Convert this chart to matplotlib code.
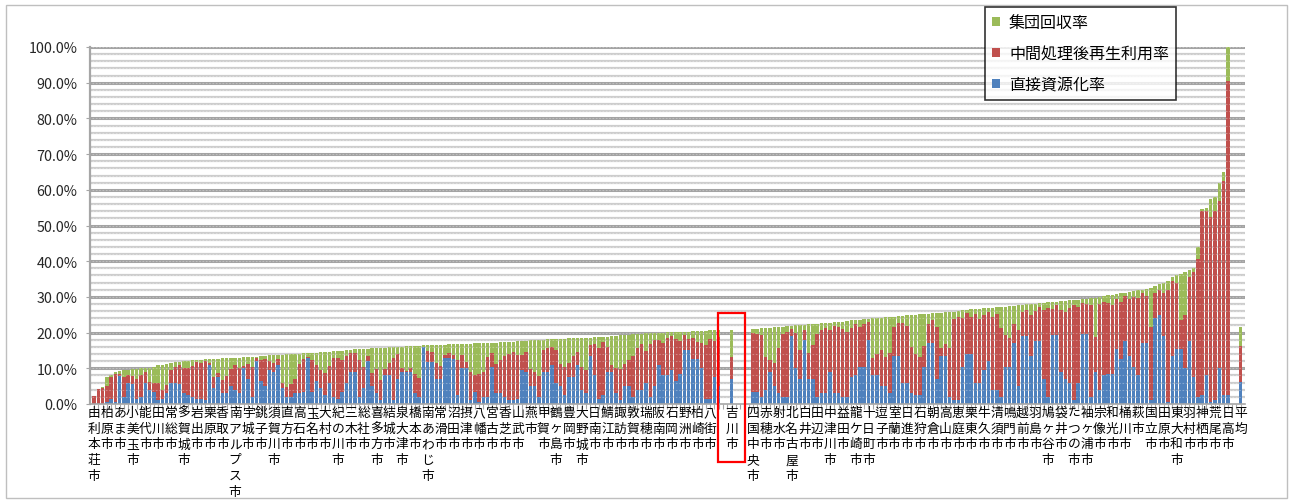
"""Recycling-rate comparison chart: 吉川市 vs. similar cities (stacked bars)."""
import matplotlib
matplotlib.use("Agg")
import matplotlib.pyplot as plt
from matplotlib.patches import Rectangle
from matplotlib.transforms import blended_transform_factory
import numpy as np

plt.rcParams["font.family"] = ["Noto Sans CJK JP", "DejaVu Sans"]

W, H = 1292, 502

SERIES = ["集団回収率", "中間処理後再生利用率", "直接資源化率"]
COLORS = {"blue": "#4F81BD", "red": "#C0504D", "green": "#9BBB59"}

# ---- left block (sorted, below 吉川市) : total / blue / green, in % ----
left_total = [
    2.3, 4.2, 4.8, 7.5, 8.0, 9.0, 9.3, 9.5, 9.6, 9.8,
    9.9, 10.0, 10.0, 10.2, 10.5, 10.8, 11.0, 11.2, 11.5, 11.8,
    11.9, 12.0, 12.1, 12.2, 12.3, 12.4, 12.5, 12.5, 12.6, 12.7,
    12.8, 12.8, 12.9, 13.0, 13.0, 13.1, 13.2, 13.3, 13.3, 13.4,
    13.5, 13.6, 13.6, 13.7, 13.8, 13.9, 14.0, 14.0, 14.1, 14.2,
    14.3, 14.4, 14.4, 14.5, 14.6, 14.7, 14.8, 14.8, 14.9, 15.0,
    15.2, 15.3, 15.4, 15.4, 15.5, 15.6, 15.7, 15.7, 15.8, 15.9,
    16.0, 16.0, 16.1, 16.2, 16.2, 16.3, 16.3, 16.4, 16.4, 16.5,
    16.5, 16.6, 16.6, 16.7, 16.7, 16.8, 16.8, 16.9, 16.9, 17.0,
    17.0, 17.1, 17.1, 17.2, 17.2, 17.3, 17.4, 17.4, 17.5, 17.6,
    17.7, 17.7, 17.8, 17.9, 17.9, 18.0, 18.1, 18.1, 18.2, 18.3,
    18.3, 18.4, 18.4, 18.5, 18.5, 18.6, 18.6, 18.7, 18.7, 18.8,
    18.9, 19.0, 19.1, 19.2, 19.3, 19.4, 19.5, 19.6, 19.7, 19.8,
    19.9, 19.9, 20.0, 20.0, 20.1, 20.1, 20.2, 20.2, 20.3, 20.3,
    20.4, 20.4, 20.5, 20.5, 20.6, 20.6, 20.7,
]
left_blue = [
    0, 0, 0, 0.5, 1.5, 0.5, 7.8, 2, 6, 5.5,
    1.5, 2, 6, 4, 3.5, 1, 1.5, 3, 6, 6,
    5.5, 3, 2.5, 2, 1.5, 1.5, 1, 11, 4.5, 7.5,
    3, 3, 5, 4, 3, 10, 7, 2, 12, 6.5,
    5, 9.5, 9, 11, 4.5, 2, 2, 3, 3, 3.5,
    13, 3.5, 6.5, 4.5, 2.5, 6, 2, 1.5, 3.5, 6,
    9, 9, 2, 4.5, 12, 5, 3, 1, 8, 8,
    1, 7, 9, 9, 9, 3, 2, 16, 11.8, 11.8,
    7, 7, 13, 13, 12.5, 2.5, 10, 10, 1, 3.5,
    0.5, 2, 2, 10.5, 3, 3, 2, 1, 1, 1.5,
    9.5, 9, 5, 5, 2, 9, 9, 11, 6, 5,
    2.5, 7.5, 7.5, 11, 4, 3, 13.5, 8, 1.5, 2.5,
    9, 9, 3, 1, 5, 5, 2, 4, 4, 6,
    2, 5, 11, 8, 8, 9.5, 6.5, 8.5, 15, 15,
    12.5, 12.5, 10, 1.5, 1.5, 7.5, 5,
]
left_green = [
    0, 0, 0.3, 2.5, 0.5, 0.5, 1.0, 2, 1.5, 2,
    3, 2, 1, 4, 4.5, 5, 7, 6, 2, 1.5,
    1, 2, 2, 1.5, 0.5, 1, 0.5, 1, 5, 4,
    6, 5, 3, 2, 3, 2.5, 2, 3, 0.5, 1,
    1, 1.5, 2, 1, 8, 9, 8.5, 7, 3, 1.5,
    1, 2, 3.5, 5, 6, 4, 2, 2, 2.5, 1.5,
    1, 1, 3, 5, 2, 7, 6, 9, 6, 4.5,
    3, 2, 6, 7, 6, 8, 9, 0.3, 1.5, 2,
    5, 6, 3, 2.5, 3, 4.5, 3, 5, 8, 9,
    8.5, 8, 4, 3, 6, 5, 4, 3.5, 3, 4,
    4, 3, 8, 9, 10, 3, 2.5, 2, 3, 7,
    8, 7, 5, 4, 8, 9, 2, 2, 3, 1.5,
    3, 8, 9, 9.5, 8, 7, 6, 4, 3, 5,
    3, 2, 2, 3, 1.5, 1, 2, 2.5, 1, 2,
    2, 3, 3.5, 4, 2.5, 3, 2,
]

# ---- right block (sorted, above 吉川市) ----
right_total = [
    21.0, 21.1, 21.2, 21.3, 21.4, 21.5, 21.6, 21.7, 21.8, 21.9,
    22.0, 22.1, 22.2, 22.3, 22.4, 22.5, 22.6, 22.7, 22.8, 22.9,
    23.0, 23.1, 23.2, 23.4, 23.5, 23.6, 23.8, 23.9, 24.0, 24.1,
    24.2, 24.3, 24.4, 24.5, 24.6, 24.7, 24.8, 24.9, 25.0, 25.1,
    25.2, 25.3, 25.4, 25.5, 25.6, 25.7, 25.8, 25.9, 26.0, 26.2,
    26.4, 26.5, 26.6, 26.7, 26.8, 26.9, 27.0, 27.1, 27.2, 27.3,
    27.4, 27.5, 27.6, 27.8, 27.9, 28.0, 28.1, 28.2, 28.4, 28.5,
    28.6, 28.7, 28.8, 28.9, 29.0, 29.1, 29.2, 29.3, 29.4, 29.6,
    29.8, 30.0, 30.2, 30.4, 30.6, 30.8, 31.0, 31.2, 31.4, 31.6,
    31.8, 32.0, 32.3, 32.6, 33.0, 33.5, 34.0, 34.5, 35.5, 36.0,
    36.5, 37.0, 37.5, 38.0, 44.0, 54.5, 55.0, 57.5, 58.0, 62.0,
    65.0, 100.0,
]
right_blue = [
    3.5, 3.5, 2, 4, 9, 5, 3, 2, 2, 19,
    10, 7, 18, 7, 7, 2, 3, 3, 9, 3,
    3, 2, 2, 7.5, 8, 10.5, 10.5, 18, 8, 8,
    5, 5, 3, 13.5, 13.5, 6, 6, 3, 2.5, 2.5,
    10.5, 17, 17, 7, 13.5, 13.5, 2, 1, 1, 10.5,
    14, 14, 6, 6, 9.5, 12, 4, 4, 2, 10.5,
    10.5, 17, 5, 19, 19, 13.5, 17.6, 17.6, 7, 2,
    19.3, 19.3, 9, 7, 6, 1, 6, 19.5, 19.5, 2,
    9, 4, 8, 8.5, 8.5, 15.5, 12.6, 17.6, 13.5, 10.5,
    8, 17, 17, 1, 24, 25, 19, 0.5, 13.5, 15.5,
    15.5, 10, 17.6, 7.5, 2, 2.5, 8, 0.5, 1, 10,
    2.5, 2.5,
]
right_green = [
    1, 1.5, 2, 8, 9, 10, 6, 2, 1.5, 1,
    2, 7, 1.5, 8, 6, 3, 2, 1.5, 2, 1,
    1.5, 2, 3, 2, 1, 2, 1.5, 1, 11, 10,
    9, 11, 10, 3, 2, 2, 3, 9, 11, 12,
    9, 3, 2, 4, 10, 9, 10, 2, 1.5, 2,
    1, 2, 1.5, 3, 2, 1, 2.5, 2, 6, 8,
    9, 5, 7, 2, 1.5, 3, 2, 1, 2, 1.5,
    2, 1, 2.5, 3, 2, 1.5, 2, 1, 1.5, 2,
    11, 2, 1.5, 2, 3, 1.5, 2.5, 1, 2, 1.5,
    2, 1, 2, 11, 2, 1.5, 3, 2.5, 1, 2,
    13, 12, 2, 1, 3.4, 0.5, 1, 5, 4, 5,
    2.5, 9.5,
]

# ---- 吉川市 and 平均 ----
yoshikawa = {"blue": 7.0, "red": 6.2, "green": 7.5}
average = {"blue": 6.2, "red": 10.0, "green": 5.4}

left_labels = [
    "由利本荘市", "柏原市", "あま市", "小美玉市", "能代市", "田川市", "常総市",
    "多賀城市", "岩出市", "栗原市", "香取市", "南アルプス市", "宇城市", "銚子市",
    "須賀川市", "直方市", "高石市", "玉名市", "大村市", "紀の川市", "三木市",
    "総社市", "喜多方市", "結城市", "泉大津市", "橋本市", "南あわじ市", "常滑市",
    "沼田市", "摂津市", "八幡市", "宮古市", "香芝市", "山武市", "燕市", "甲賀市",
    "鶴ヶ島市", "豊岡市", "大野城市", "日南市", "鯖江市", "諏訪市", "敦賀市",
    "瑞穂市", "阪南市", "石岡市", "野洲市", "柏崎市", "八街市",
]
right_labels = [
    "四国中央市", "赤穂市", "射水市", "北名古屋市", "白井市", "田辺市", "中津川市",
    "益田市", "龍ケ崎市", "十日町市", "逗子市", "室蘭市", "日進市", "石狩市",
    "朝倉市", "高山市", "恵庭市", "栗東市", "牛久市", "清須市", "鳴門市", "越前市",
    "羽島市", "鳩ヶ谷市", "袋井市", "たつの市", "袖ヶ浦市", "宗像市", "和光市",
    "桶川市", "萩市", "国立市", "田原市", "東大和市", "羽村市", "神栖市", "荒尾市",
    "日高市",
]


def main() -> None:
    # category slots: left block, gap, 吉川市, gap, right block, gap, 平均
    n_left, n_right = len(left_total), len(right_total)
    x_left = np.arange(n_left)
    x_yoshi = 149
    r0 = 154
    x_right = np.arange(r0, r0 + n_right)
    x_avg = 268

    xs = np.concatenate([x_left, [x_yoshi], x_right, [x_avg]])
    blue = np.concatenate([left_blue, [yoshikawa["blue"]], right_blue, [average["blue"]]])
    green = np.concatenate([left_green, [yoshikawa["green"]], right_green, [average["green"]]])
    total = np.concatenate([left_total,
                            [sum(yoshikawa.values())], right_total, [sum(average.values())]])
    red = np.clip(total - blue - green, 0, None)

    fig = plt.figure(figsize=(W / 100, H / 100), dpi=100)
    ax = fig.add_axes([90 / W, (H - 405) / H, (1245 - 90) / W, (405 - 48) / H])
    ax.set_xlim(-0.93, 269.0)
    ax.set_ylim(0, 100)

    # 3D-ish gridlines: light every 2 %, darker every 10 %
    for v in range(2, 101, 2):
        if v % 10:
            ax.axhline(v, color="#CDCDCD", lw=1.6, zorder=0)
        else:
            ax.axhline(v, color="#A3A3A3", lw=2.2, zorder=0)

    w = 0.8
    hb = ax.bar(xs, blue, w, color=COLORS["blue"], lw=0, zorder=2)
    hr = ax.bar(xs, red, w, bottom=blue, color=COLORS["red"], lw=0, zorder=2)
    hg = ax.bar(xs, green, w, bottom=blue + red, color=COLORS["green"], lw=0, zorder=2)
    # faint dashes of the back-wall gridlines seen through the bars
    ax.hlines(np.arange(2, 101, 2), -0.5, 268.5, colors="white", alpha=0.3, lw=0.8,
              linestyles=(0, (1.5, 1.5)), zorder=3)

    for s in ("top", "right"):
        ax.spines[s].set_visible(False)
    ax.spines["left"].set_color("#A6A6A6")
    ax.spines["left"].set_linewidth(1.6)
    ax.spines["bottom"].set_color("#A6A6A6")
    ax.spines["bottom"].set_linewidth(1.2)

    ax.set_yticks(np.arange(0, 101, 10))
    ax.set_yticklabels([f"{v:.1f}%" for v in range(0, 101, 10)], fontsize=10.3, color="#262626")
    ax.tick_params(axis="y", length=3, color="#A6A6A6", pad=6)
    ax.set_xticks(np.arange(0, 269))
    ax.set_xticklabels([])
    ax.tick_params(axis="x", length=3.5, width=0.8, color="#A6A6A6")

    # vertical (one character per line) category labels
    trans = blended_transform_factory(ax.transData, ax.transAxes)
    label_pos = list(range(0, 3 * len(left_labels), 3)) + [x_yoshi] + \
        list(range(r0, r0 + 3 * len(right_labels), 3)) + [x_avg]
    names = left_labels + ["吉川市"] + right_labels + ["平均"]
    for p, name in zip(label_pos, names):
        ax.text(p, -0.005, "\n".join(name), transform=trans, ha="center", va="top",
                fontsize=9.2, linespacing=1.28, color="black", clip_on=False)

    # highlight box around 吉川市
    fig.add_artist(Rectangle((718 / W, 1 - 463 / H), 27 / W, 149 / H, transform=fig.transFigure,
                             fill=False, ec="#FF0000", lw=1.6))

    leg = fig.legend([hg, hr, hb], SERIES, loc="upper left",
                     bbox_to_anchor=(985 / W, 1 - 8 / H), bbox_transform=fig.transFigure,
                     borderaxespad=0, fontsize=11.5, frameon=True, fancybox=False,
                     edgecolor="black", borderpad=0.45, labelspacing=0.88,
                     handlelength=0.5, handleheight=0.5, handletextpad=0.55)
    leg.get_frame().set_linewidth(1.2)

    # outer chart border
    fig.add_artist(Rectangle((6 / W, 3 / H), 1281 / W, 493 / H, transform=fig.transFigure,
                             fill=False, ec="#BFBFBF", lw=1.0))

    fig.savefig("out.png", dpi=100)
    plt.close(fig)


if __name__ == "__main__":
    main()
